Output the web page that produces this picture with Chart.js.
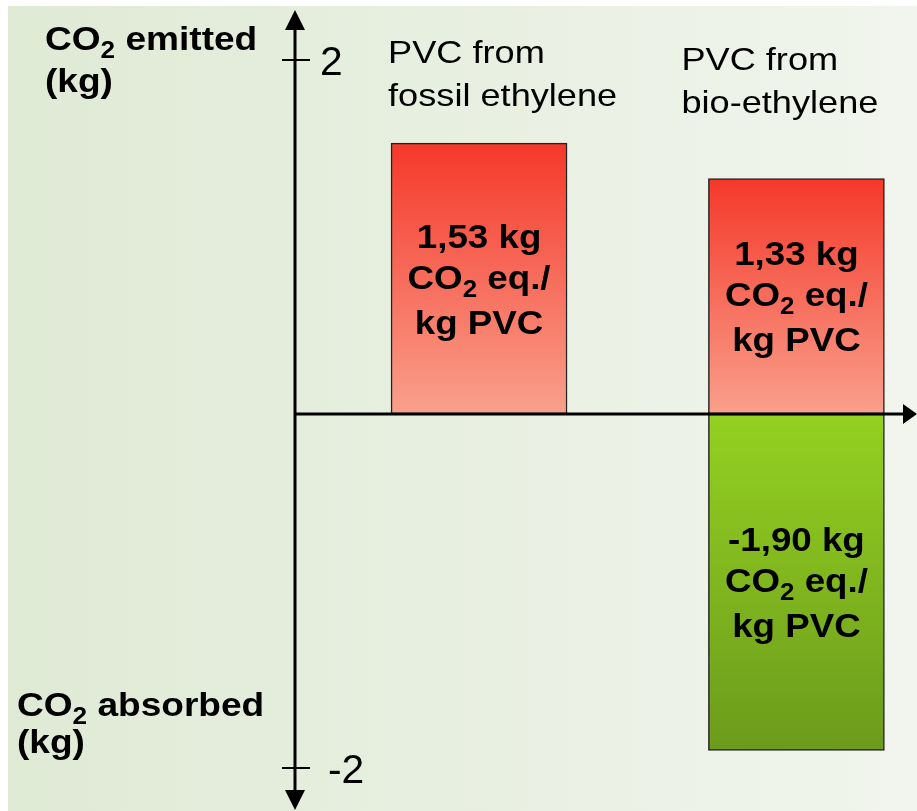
<!DOCTYPE html>
<html>
<head>
<meta charset="utf-8">
<script src="https://cdn.jsdelivr.net/npm/chart.js@4.4.1/dist/chart.umd.min.js"></script>
<style>
  html, body { margin: 0; padding: 0; background: #fff; }
  #wrap { width: 917px; height: 811px; }
</style>
</head>
<body>
<div id="wrap"><canvas id="co2Chart" width="917" height="811"></canvas></div>
<script>
// data
const categories = [
  ['PVC from', 'fossil ethylene'],
  ['PVC from', 'bio-ethylene']
];
const emitted = [1.53, 1.33];
const absorbed = [null, -1.90];
const yTicks = [2, -2];
const axisLabels = {
  top: [['CO', '2', ' emitted'], ['(kg)']],
  bottom: [['CO', '2', ' absorbed'], ['(kg)']]
};

const FONT = '"Liberation Sans", Arial, sans-serif';

function fmt(v) {
  return v.toFixed(2).replace('.', ',');
}

function barFill(context, c1, c2, fallback) {
  const chart = context.chart;
  if (!chart.chartArea || !context.raw || context.raw.y == null) return fallback;
  const y = chart.scales.y;
  const a = y.getPixelForValue(context.raw.y);
  const b = y.getPixelForValue(0);
  if (!isFinite(a) || !isFinite(b)) return fallback;
  const g = chart.ctx.createLinearGradient(0, Math.min(a, b), 0, Math.max(a, b));
  g.addColorStop(0, c1);
  g.addColorStop(1, c2);
  return g;
}

const redFill = ctx => barFill(ctx, '#f5382a', '#f9a08c', '#f76a58');
const greenFill = ctx => barFill(ctx, '#94d121', '#6c9b1c', '#80b620');

// text with an optional subscript part: parts = [normal, sub, normal]
// sx stretches the text horizontally, the source picture is a bit wide
function drawParts(ctx, parts, x, y, size, weight, align, sx) {
  const main = weight + ' ' + size + 'px ' + FONT;
  const sub = weight + ' ' + Math.round(size * 0.7) + 'px ' + FONT;
  const widths = parts.map((p, i) => {
    ctx.font = i === 1 ? sub : main;
    return ctx.measureText(p || '').width;
  });
  const total = widths.reduce((a, b) => a + b, 0);
  ctx.save();
  ctx.translate(x, y);
  ctx.scale(sx, 1);
  let cx = align === 'center' ? -total / 2 : 0;
  ctx.textAlign = 'left';
  ctx.textBaseline = 'alphabetic';
  parts.forEach((p, i) => {
    if (!p) return;
    ctx.font = i === 1 ? sub : main;
    ctx.fillText(p, cx, i === 1 ? size * 0.24 : 0);
    cx += widths[i];
  });
  ctx.restore();
}

const backdrop = {
  id: 'backdrop',
  beforeDraw(chart) {
    const ctx = chart.ctx;
    ctx.save();
    ctx.fillStyle = '#fff';
    ctx.fillRect(0, 0, chart.width, chart.height);
    const g = ctx.createLinearGradient(8, 0, chart.width, 0);
    g.addColorStop(0, '#dfead5');
    g.addColorStop(1, '#f1f5ed');
    ctx.fillStyle = g;
    ctx.fillRect(8, 6, chart.width - 8, chart.height - 6);
    ctx.restore();
  }
};

const axesAndText = {
  id: 'axesAndText',
  afterDatasetsDraw(chart) {
    const ctx = chart.ctx;
    const x = chart.scales.x;
    const y = chart.scales.y;
    const x0 = chart.chartArea.left;
    const y0 = y.getPixelForValue(0);
    ctx.save();
    ctx.fillStyle = '#000';
    ctx.strokeStyle = '#000';

    // y axis with arrows
    ctx.lineWidth = 3;
    ctx.beginPath();
    ctx.moveTo(x0, 24);
    ctx.lineTo(x0, 796);
    ctx.stroke();
    ctx.beginPath();
    ctx.moveTo(x0, 10); ctx.lineTo(x0 - 10, 30); ctx.lineTo(x0 + 10, 30); ctx.closePath();
    ctx.fill();
    ctx.beginPath();
    ctx.moveTo(x0, 810); ctx.lineTo(x0 - 10, 790); ctx.lineTo(x0 + 10, 790); ctx.closePath();
    ctx.fill();

    // x axis with arrow
    ctx.beginPath();
    ctx.moveTo(x0, y0);
    ctx.lineTo(906, y0);
    ctx.stroke();
    ctx.beginPath();
    ctx.moveTo(917, y0); ctx.lineTo(903, y0 - 10); ctx.lineTo(903, y0 + 10); ctx.closePath();
    ctx.fill();

    // y ticks
    ctx.lineWidth = 2;
    yTicks.forEach(t => {
      const py = y.getPixelForValue(t);
      ctx.beginPath();
      ctx.moveTo(x0 - 13, py);
      ctx.lineTo(x0 + 15, py);
      ctx.stroke();
      drawParts(ctx, [String(t)], t < 0 ? x0 + 33 : x0 + 25, py + 15, 40, 'normal', 'left', 1.02);
    });

    // axis captions
    drawParts(ctx, axisLabels.top[0], 45, 50, 34, 'bold', 'left', 1.09);
    drawParts(ctx, axisLabels.top[1], 45, 92, 34, 'bold', 'left', 1.09);
    drawParts(ctx, axisLabels.bottom[0], 17, 716, 34, 'bold', 'left', 1.09);
    drawParts(ctx, axisLabels.bottom[1], 17, 753, 34, 'bold', 'left', 1.09);

    // category titles
    const titleOff = [[-91, 63], [-115, 70]];
    categories.forEach((lines, i) => {
      const cx = x.getPixelForValue(i + 1) + titleOff[i][0];
      lines.forEach((l, j) => drawParts(ctx, [l], cx, titleOff[i][1] + j * 43, 32, 'normal', 'left', 1.13));
    });

    // labels inside bars
    const drawBarText = (ds, v, i) => {
      const meta = chart.getDatasetMeta(ds);
      const bar = meta.data[i];
      if (!bar || v == null) return;
      const cx = bar.x;
      const mid = (bar.y + bar.base) / 2;
      drawParts(ctx, [fmt(v) + ' kg'], cx, mid - 31, 34, 'bold', 'center', 1.08);
      drawParts(ctx, ['CO', '2', ' eq./'], cx, mid + 10, 34, 'bold', 'center', 1.08);
      drawParts(ctx, ['kg PVC'], cx, mid + 55, 34, 'bold', 'center', 1.08);
    };
    emitted.forEach((v, i) => drawBarText(0, v, i));
    absorbed.forEach((v, i) => drawBarText(1, v, i));

    ctx.restore();
  }
};

new Chart(document.getElementById('co2Chart'), {
  type: 'bar',
  data: {
    datasets: [
      {
        label: 'CO2 emitted',
        data: emitted.map((v, i) => ({ x: i + 1, y: v })),
        backgroundColor: redFill,
        borderColor: '#222',
        borderWidth: 1.5,
        borderSkipped: false,
        barThickness: 176
      },
      {
        label: 'CO2 absorbed',
        data: absorbed.map((v, i) => ({ x: i + 1, y: v })),
        backgroundColor: greenFill,
        borderColor: '#222',
        borderWidth: 1.5,
        borderSkipped: false,
        barThickness: 176
      }
    ]
  },
  options: {
    responsive: false,
    animation: false,
    layout: { padding: { left: 295, right: 0, top: 60, bottom: 43 } },
    scales: {
      x: { type: 'linear', min: 0.42, max: 2.38, offset: false, stacked: true, display: false },
      y: { min: -2, max: 2, stacked: true, display: false }
    },
    plugins: {
      legend: { display: false },
      tooltip: { enabled: false }
    }
  },
  plugins: [backdrop, axesAndText]
});
</script>
</body>
</html>
